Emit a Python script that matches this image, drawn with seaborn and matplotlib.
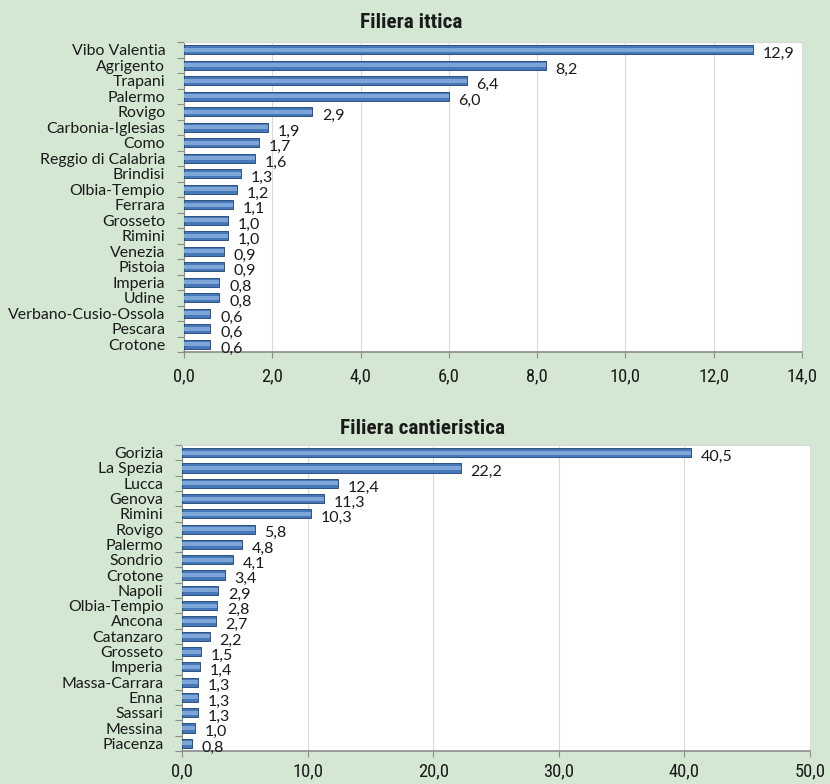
import matplotlib
matplotlib.use("Agg")
import matplotlib.pyplot as plt
import seaborn as sns
import pandas as pd
from matplotlib.ticker import MultipleLocator, FuncFormatter

# ---- data ----
ittica_cat = ["Vibo Valentia", "Agrigento", "Trapani", "Palermo", "Rovigo",
              "Carbonia-Iglesias", "Como", "Reggio di Calabria", "Brindisi",
              "Olbia-Tempio", "Ferrara", "Grosseto", "Rimini", "Venezia",
              "Pistoia", "Imperia", "Udine", "Verbano-Cusio-Ossola",
              "Pescara", "Crotone"]
ittica_val = [12.9, 8.2, 6.4, 6.0, 2.9, 1.9, 1.7, 1.6, 1.3, 1.2, 1.1, 1.0,
              1.0, 0.9, 0.9, 0.8, 0.8, 0.6, 0.6, 0.6]

cant_cat = ["Gorizia", "La Spezia", "Lucca", "Genova", "Rimini", "Rovigo",
            "Palermo", "Sondrio", "Crotone", "Napoli", "Olbia-Tempio",
            "Ancona", "Catanzaro", "Grosseto", "Imperia", "Massa-Carrara",
            "Enna", "Sassari", "Messina", "Piacenza"]
cant_val = [40.5, 22.2, 12.4, 11.3, 10.3, 5.8, 4.8, 4.1, 3.4, 2.9, 2.8, 2.7,
            2.2, 1.5, 1.4, 1.3, 1.3, 1.3, 1.0, 0.8]

titles = ["Filiera ittica", "Filiera cantieristica"]
xmax = [14.0, 50.0]
xstep = [2.0, 10.0]

BG = "#d3e7d2"
sns.set_theme(style="white")
plt.rcParams["font.family"] = ["Lato", "DejaVu Sans"]

fig = plt.figure(figsize=(8.3, 7.84), dpi=100, facecolor=BG)

W, H = 830, 784
def rect(l, t, r, b):
    return [l / W, 1 - b / H, (r - l) / W, (b - t) / H]

axes = [fig.add_axes(rect(184, 42, 802, 352)),
        fig.add_axes(rect(182, 445, 810, 751))]
title_xy = [(411, 23), (422, 428)]
tick_pad = [6.7, 4.0]

comma = lambda v, p=None: f"{v:.1f}".replace(".", ",")

for ax, cats, vals, ttl, xm, xs, txy, tp in zip(
        axes, [ittica_cat, cant_cat], [ittica_val, cant_val],
        titles, xmax, xstep, title_xy, tick_pad):
    df = pd.DataFrame({"cat": cats, "val": vals})
    ax.set_facecolor("white")
    sns.barplot(data=df, x="val", y="cat", order=cats, orient="h",
                color="#4677b8", edgecolor="#2c5284", linewidth=0.7,
                width=0.6, saturation=1, ax=ax, zorder=3)
    cont = ax.containers[0]
    sns.barplot(data=df, x="val", y="cat", order=cats, orient="h",
                color="#7ea5d8", linewidth=0, width=0.26, saturation=1,
                ax=ax, zorder=4)
    anns = ax.bar_label(cont, labels=[comma(v) for v in vals], padding=7,
                        fontsize=11.5, color="#1a1a1a")
    for a in anns:
        a.xyann = (7, -3)

    ax.set_xlim(0, xm)
    ax.set_ylim(len(cats) - 0.5, -0.5)
    ax.xaxis.set_major_locator(MultipleLocator(xs))
    ax.xaxis.set_major_formatter(FuncFormatter(comma))
    ax.grid(axis="x", color="#d9d9d9", linewidth=0.8, zorder=0)
    ax.set_axisbelow(True)
    ax.set_xlabel("")
    ax.set_ylabel("")

    # category boundary ticks
    ax.set_yticks([i - 0.5 for i in range(len(cats) + 1)], minor=True)
    ax.tick_params(axis="y", which="minor", length=5, width=0.8,
                   color="#8c8c8c", left=True)
    ax.tick_params(axis="y", which="major", length=0, pad=13.5, labelsize=11.4,
                   labelcolor="#1a1a1a")
    ax.tick_params(axis="x", which="major", length=4, width=0.8,
                   color="#8c8c8c", bottom=True, pad=tp, labelsize=13.3,
                   labelcolor="#1a1a1a")
    for lbl in ax.get_xticklabels():
        lbl.set_family(["Roboto Condensed", "Roboto", "DejaVu Sans"])
    for side in ["top", "right"]:
        ax.spines[side].set_color("#d9d9d9")
        ax.spines[side].set_linewidth(0.8)
    ax.spines["left"].set_color("#8c8c8c")
    ax.spines["bottom"].set_color("#8c8c8c")
    ax.spines["left"].set_linewidth(0.8)
    ax.spines["bottom"].set_linewidth(1.2)

    fig.text(txy[0] / W, 1 - txy[1] / H, ttl, ha="center", va="center",
             fontsize=15.3, fontweight="bold", color="#1a1a1a",
             family=["Roboto Condensed", "Roboto", "DejaVu Sans"])

fig.savefig("out.png", dpi=100, facecolor=BG)
